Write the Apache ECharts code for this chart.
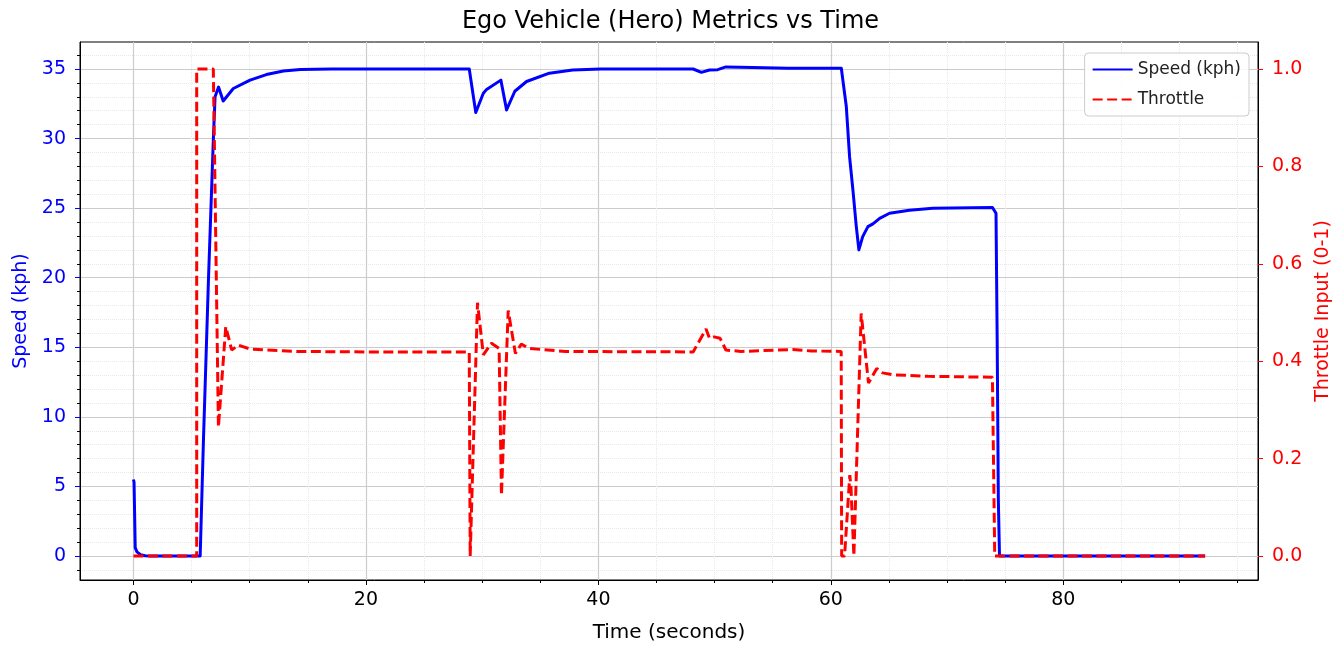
<!DOCTYPE html>
<html>
<head>
<meta charset="utf-8">
<script src="https://cdn.jsdelivr.net/npm/echarts@6/dist/echarts.min.js"></script>
<style>
html,body{margin:0;padding:0;background:#fff;}
#chart{width:1341px;height:645px;}
</style>
</head>
<body>
<div id="chart"></div>
<script>
// ---- data ----
const speedTime = [0, 0.05, 0.15, 0.3, 0.6, 1.0, 1.5, 5.74, 6.02, 6.45, 6.87, 7.02, 7.32, 7.72, 8.59, 10.03, 11.44, 12.9, 14.36, 17.07,
  28.89, 29.45, 30.1, 30.35, 31.61, 32.1, 32.81, 33.82, 35.78, 37.79, 40.21,
  48.15, 48.86, 49.56, 50.27, 50.97, 53.28, 56.3, 60.9,
  61.33, 61.61, 61.9, 62.19, 62.41, 62.74, 63.19, 63.62, 64.2, 65.05, 66.76, 68.77, 73.9,
  74.21, 74.31, 74.41, 74.51, 92.2];
const speedKph = [5.5, 5.3, 0.6, 0.3, 0.1, 0.02, 0, 0, 8.3, 19.8, 29.9, 33.0, 33.7, 32.7, 33.6, 34.2, 34.6, 34.85, 34.97, 35.0,
  35.0, 31.87, 33.26, 33.5, 34.2, 32.06, 33.4, 34.1, 34.7, 34.93, 35.0,
  35.0, 34.76, 34.93, 34.95, 35.15, 35.1, 35.05, 35.05,
  32.3, 28.7, 26.3, 23.67, 22.0, 22.95, 23.67, 23.87, 24.27, 24.63, 24.85, 25.0, 25.05,
  24.63, 15.5, 4.0, 0, 0];

const throttleTime = [0, 5.44, 5.44, 6.87, 7.31, 7.94, 8.45, 9.03, 10.03, 14.06, 20.09, 28.89, 28.97,
  29.6, 30.1, 30.8, 31.46, 31.66, 32.24, 32.86, 33.37, 34.07, 37.19,
  48.15, 49.26, 49.56, 49.96, 50.47, 50.97, 52.28, 56.7, 58.31, 60.89, 60.93, 61.18,
  61.63, 61.73, 61.9, 61.98, 62.13, 62.61, 63.24, 63.95, 64.45, 65.35, 68.37, 73.9, 74.1, 92.2];
const throttleInput = [0, 0, 1.0, 1.0, 0.265, 0.471, 0.423, 0.433, 0.425, 0.42, 0.419, 0.419, 0,
  0.52, 0.413, 0.437, 0.426, 0.125, 0.504, 0.416, 0.435, 0.426, 0.42,
  0.419, 0.466, 0.447, 0.45, 0.447, 0.423, 0.42, 0.424, 0.421, 0.42, 0, 0,
  0.166, 0.142, 0.14, 0, 0, 0.498, 0.355, 0.385, 0.376, 0.372, 0.369, 0.367, 0, 0];

const xTicks = [0, 20, 40, 60, 80];
const speedTicks = [0, 5, 10, 15, 20, 25, 30, 35];
const throttleTicks = [0, 0.2, 0.4, 0.6, 0.8, 1.0];

const titleText = 'Ego Vehicle (Hero) Metrics vs Time';
const xName = 'Time (seconds)';
const speedName = 'Speed (kph)';
const throttleName = 'Throttle Input (0-1)';

// ---- chart ----
const FONT = 'DejaVu Sans';
const chart = echarts.init(document.getElementById('chart'), null, {renderer: 'canvas'});
const speedData = speedTime.map((t, i) => [t, speedKph[i]]);
const throttleData = throttleTime.map((t, i) => [t, throttleInput[i]]);

chart.setOption({
  animation: false,
  backgroundColor: '#fff',
  textStyle: {fontFamily: FONT},
  title: {
    text: titleText, left: 'center', top: 5,
    textStyle: {fontFamily: FONT, fontSize: 24, fontWeight: 'normal', color: '#000'}
  },
  legend: {
    orient: 'vertical', right: 92, top: 53,
    itemWidth: 40, itemHeight: 14, itemGap: 13,
    padding: [8, 8, 8, 7],
    borderColor: '#cccccc', borderWidth: 1, borderRadius: 4,
    backgroundColor: 'rgba(255,255,255,0.85)',
    textStyle: {fontFamily: FONT, fontSize: 17, color: '#222'},
    data: [
      {name: speedName, itemStyle: {opacity: 0}},
      {name: 'Throttle', itemStyle: {opacity: 0}}
    ]
  },
  grid: {left: 80, right: 83, top: 42, bottom: 65, show: true, borderColor: '#000', borderWidth: 1,
    containLabel: false, outerBoundsMode: 'none'},
  xAxis: {
    type: 'value', min: -4.6, max: 96.75, minInterval: 20, maxInterval: 20,
    name: xName, nameLocation: 'middle', nameGap: 43,
    nameTextStyle: {fontFamily: FONT, fontSize: 20, color: '#000'},
    axisLine: {show: true, onZero: false, lineStyle: {color: '#000', width: 1}},
    axisTick: {show: true, length: 5, customValues: xTicks, lineStyle: {color: '#000'}},
    axisLabel: {show: true, margin: 11, customValues: xTicks,
      fontFamily: FONT, fontSize: 19, color: '#000', formatter: v => String(Math.round(v))},
    minorTick: {show: true, splitNumber: 4, length: 3, lineStyle: {color: '#000'}},
    splitLine: {show: true, lineStyle: {color: '#cccccc', width: 1.2}},
    minorSplitLine: {show: true, lineStyle: {color: '#e8e8e8', type: 'dotted', width: 1}}
  },
  yAxis: [
    {
      type: 'value', position: 'left', min: -1.725, max: 36.94, minInterval: 5, maxInterval: 5,
      name: speedName, nameLocation: 'middle', nameGap: 45, nameRotate: 90,
      nameTextStyle: {fontFamily: FONT, fontSize: 19, color: '#0000ff'},
      axisLine: {show: true, onZero: false, lineStyle: {color: '#000', width: 1}},
      axisTick: {show: true, length: 5, customValues: speedTicks, lineStyle: {color: '#0000ff'}},
      axisLabel: {show: true, margin: 14, customValues: speedTicks,
        fontFamily: FONT, fontSize: 19, color: '#0000ff', formatter: v => String(Math.round(v))},
      minorTick: {show: true, splitNumber: 5, length: 3, lineStyle: {color: '#000'}},
      splitLine: {show: true, lineStyle: {color: '#cccccc', width: 1.2}},
      minorSplitLine: {show: true, lineStyle: {color: '#e8e8e8', type: 'dotted', width: 1}}
    },
    {
      type: 'value', position: 'right', min: -0.0493, max: 1.0554, minInterval: 0.2, maxInterval: 0.2,
      name: throttleName, nameLocation: 'middle', nameGap: 52, nameRotate: 90,
      nameTextStyle: {fontFamily: FONT, fontSize: 19, color: '#ff0000'},
      axisLine: {show: true, onZero: false, lineStyle: {color: '#000', width: 1}},
      axisTick: {show: true, length: 5, customValues: throttleTicks, lineStyle: {color: '#ff0000'}},
      axisLabel: {show: true, margin: 14, customValues: throttleTicks,
        fontFamily: FONT, fontSize: 19, color: '#ff0000', formatter: v => v.toFixed(1)},
      splitLine: {show: false}
    }
  ],
  series: [
    {
      name: speedName, type: 'line', yAxisIndex: 0, data: speedData,
      symbol: 'none', smooth: false, z: 2,
      lineStyle: {color: '#0000ff', width: 3, join: 'round'},
      itemStyle: {color: '#0000ff'}
    },
    {
      name: 'Throttle', type: 'line', yAxisIndex: 1, data: throttleData,
      symbol: 'none', smooth: false, z: 3,
      lineStyle: {color: '#ff0000', width: 3, type: [10, 4.5]},
      itemStyle: {color: '#ff0000'}
    }
  ]
});
</script>
</body>
</html>
